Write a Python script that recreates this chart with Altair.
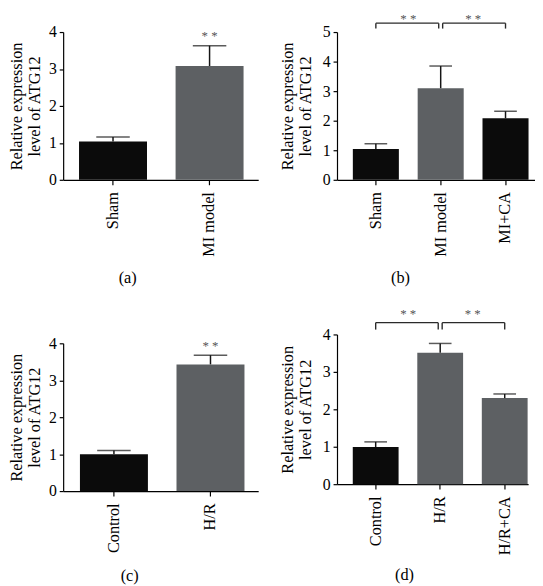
import altair as alt
import pandas as pd

FONT = "Liberation Serif"
BAR_COLORS = ["#0b0b0b", "#5d6063", "#2f3032"]
Y_TITLE = ["Relative expression", "level of ATG12"]

# ---- data ----
a_groups = ["Sham", "MI model"]
a_means = [1.04, 3.08]
a_sd = [0.12, 0.55]

b_groups = ["Sham", "MI model", "MI+CA"]
b_means = [1.04, 3.10, 2.08]
b_sd = [0.18, 0.75, 0.24]

c_groups = ["Control", "H/R"]
c_means = [1.00, 3.43]
c_sd = [0.10, 0.25]

d_groups = ["Control", "H/R", "H/R+CA"]
d_means = [0.99, 3.51, 2.30]
d_sd = [0.14, 0.25, 0.11]

# significance marks: group, height (data units), visible
a_star_groups = ["MI model", "MI model"]
a_star_y = [4.045, 4.507]
a_star_vis = [1, 0]

b_star_groups = ["Sham", "MI model"]
b_star_y = [5.633, 5.633]
b_star_vis = [1, 1]
b_pairs = [("Sham", "MI model"), ("MI model", "MI+CA")]
b_bracket_y = 5.30
b_leg_y = 5.117

c_star_groups = ["H/R"]
c_star_y = [4.097]
c_star_vis = [1]

d_star_groups = ["Control", "H/R"]
d_star_y = [4.70, 4.70]
d_star_vis = [1, 1]
d_pairs = [("Control", "H/R"), ("H/R", "H/R+CA")]
d_bracket_y = 4.316
d_leg_y = 4.13


def panel(groups, means, sds, ymax, W, H, pi, po, align, tp, letter, tx, ty, cap,
          star_groups, star_y, star_vis, star_dx, pairs=None, bracket_y=None, leg_y=None):
    df = pd.DataFrame({
        "group": groups,
        "mean": means,
        "upper": [m + s for m, s in zip(means, sds)],
    })
    xs = alt.Scale(domain=groups, paddingInner=pi, paddingOuter=po, align=align)
    ys = alt.Scale(domain=[0, ymax], nice=False, zero=True)
    xax = alt.Axis(
        title=letter, labelAngle=-90, labelFont=FONT, labelFontSize=16.5, labelColor="black",
        labelPadding=7, labelAlign="right", labelBaseline="middle",
        tickSize=5, tickColor="black", tickWidth=1.2,
        domainColor="black", domainWidth=1.2,
        titleFont=FONT, titleFontSize=16.5, titleFontWeight="normal", titleColor="black",
        titleX=tx, titleY=ty, titleAlign="center", titleBaseline="middle",
    )
    yax = alt.Axis(
        title=Y_TITLE, values=list(range(ymax + 1)), grid=False,
        labelFont=FONT, labelFontSize=16, labelColor="black", labelPadding=3,
        tickSize=4, tickColor="black", tickWidth=1.2,
        domainColor="black", domainWidth=1.2,
        titleFont=FONT, titleFontSize=16.5, titleFontWeight="normal", titleColor="black",
        titleLineHeight=18, titlePadding=tp,
    )

    def X(field):
        return alt.X(field, type="nominal", scale=xs, axis=xax, sort=groups)

    def Y(field):
        return alt.Y(field, type="quantitative", scale=ys, axis=yax)

    base = alt.Chart(df)
    bars = base.mark_bar().encode(
        x=X("group"), y=Y("mean"),
        color=alt.Color("group:N", scale=alt.Scale(domain=groups, range=BAR_COLORS[:len(groups)]), legend=None),
    )
    stems = base.mark_rule(color="#151515", strokeWidth=1.5).encode(x=X("group"), y=Y("mean"), y2="upper:Q")
    caps = base.mark_tick(color="#151515", thickness=1.5, size=cap, orient="horizontal").encode(
        x=X("group"), y=Y("upper"))

    sdf = pd.DataFrame({"group": star_groups, "y": star_y, "vis": star_vis,
                        "label": ["* *"] * len(star_groups)})
    stars = alt.Chart(sdf).mark_text(font=FONT, fontSize=13, color="#555555", baseline="top",
                                     align="center", dx=star_dx).encode(
        x=X("group"), y=Y("y"), text="label:N", opacity=alt.Opacity("vis:Q", scale=None))

    layers = [bars, stems, caps, stars]
    if pairs:
        for i, (l, r) in enumerate(pairs):
            bdf = pd.DataFrame({"l": [l], "r": [r], "y": [bracket_y], "y2": [leg_y]})
            lo = 2 if i > 0 else 0
            ro = -2 if i == 0 else 0
            bc = alt.Chart(bdf)
            layers.append(bc.mark_rule(color="#2a2a2a", strokeWidth=1.4, xOffset=lo, x2Offset=ro).encode(
                x=X("l"), x2="r:N", y=Y("y")))
            layers.append(bc.mark_rule(color="#2a2a2a", strokeWidth=1.4, xOffset=lo).encode(
                x=X("l"), y=Y("y"), y2="y2:Q"))
            layers.append(bc.mark_rule(color="#2a2a2a", strokeWidth=1.4, xOffset=ro).encode(
                x=X("r"), y=Y("y"), y2="y2:Q"))
    return alt.layer(*layers).properties(width=W, height=H)


pa = panel(a_groups, a_means, a_sd, 4, 198, 150, 0.296, 0.158, 0.52, 6, "(a)", 65, 99, 34,
           a_star_groups, a_star_y, a_star_vis, 0)
pb = panel(b_groups, b_means, b_sd, 5, 201, 150, 0.29, 0.172, 0.71, 9, "(b)", 64, 99, 23,
           b_star_groups, b_star_y, b_star_vis, 33, b_pairs, b_bracket_y, b_leg_y)
pc = panel(c_groups, c_means, c_sd, 4, 198, 150, 0.296, 0.158, 0.55, 6, "(c)", 67, 86, 34,
           c_star_groups, c_star_y, c_star_vis, 0)
pd_ = panel(d_groups, d_means, d_sd, 4, 194, 152, 0.29, 0.126, 0.97, 9, "(d)", 68, 92, 23,
            d_star_groups, d_star_y, d_star_vis, 33, d_pairs, d_bracket_y, d_leg_y)

chart = alt.hconcat(
    alt.vconcat(pa, pc, spacing=50),
    alt.vconcat(pb, pd_, spacing=22),
    spacing=21,
).properties(padding=0, background="white").configure_view(stroke=None)

chart.save("out.html", embed_options={"renderer": "svg", "actions": False})
